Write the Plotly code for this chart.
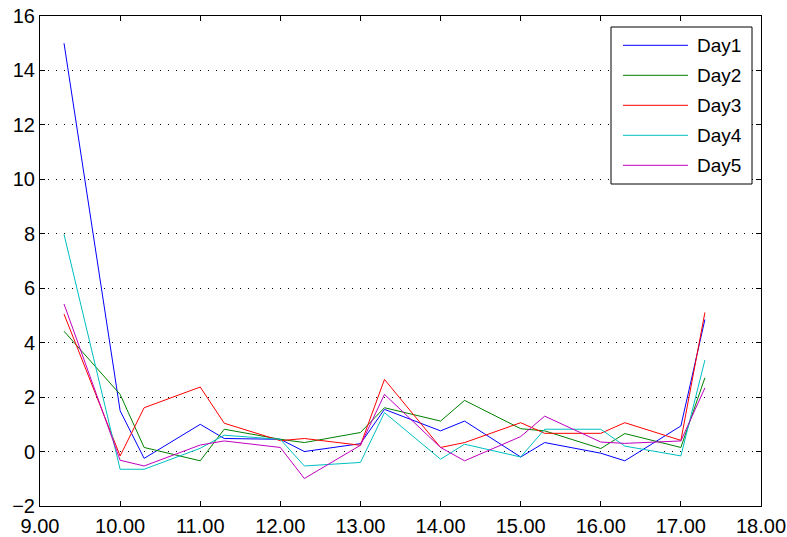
import plotly.graph_objects as go

times = [9.3, 10.0, 10.3, 11.0, 11.3, 12.0, 12.3, 13.0, 13.3, 14.0, 14.3, 15.0, 15.3, 16.0, 16.3, 17.0, 17.3]
day1 = [15.0, 1.5, -0.25, 1.0, 0.48, 0.45, 0.0, 0.29, 1.55, 0.76, 1.12, -0.2, 0.33, -0.06, -0.34, 0.94, 4.85]
day2 = [4.42, 2.1, 0.15, -0.34, 0.82, 0.45, 0.33, 0.7, 1.61, 1.12, 1.88, 0.84, 0.76, 0.11, 0.66, 0.15, 2.71]
day3 = [5.05, -0.16, 1.61, 2.37, 1.04, 0.4, 0.48, 0.23, 2.65, 0.15, 0.33, 1.06, 0.67, 0.67, 1.06, 0.41, 5.11]
day4 = [7.98, -0.65, -0.65, 0.12, 0.6, 0.45, -0.53, -0.4, 1.43, -0.28, 0.27, -0.2, 0.82, 0.82, 0.2, -0.16, 3.36]
day5 = [5.42, -0.32, -0.53, 0.24, 0.39, 0.15, -0.99, 0.23, 2.1, 0.15, -0.34, 0.55, 1.3, 0.35, 0.3, 0.39, 2.34]
names = ["Day1", "Day2", "Day3", "Day4", "Day5"]
colors = ["#0000ff", "#008000", "#ff0000", "#00bfbf", "#bf00bf"]
x_ticks = [9, 10, 11, 12, 13, 14, 15, 16, 17, 18]
x_labels = ["9.00", "10.00", "11.00", "12.00", "13.00", "14.00", "15.00", "16.00", "17.00", "18.00"]
y_ticks = list(range(-2, 17, 2))

W, H = 787, 537
ML, MR, MT, MB = 40, 26, 16, 31
PW, PH = W - ML - MR, H - MT - MB


def px_x(px):
    return (px - ML) / PW


def px_y(py):
    return (H - MB - py) / PH


FONT = "Liberation Sans, Arial, sans-serif"

fig = go.Figure()
for name, vals, col in zip(names, [day1, day2, day3, day4, day5], colors):
    fig.add_trace(go.Scatter(x=times, y=vals, mode="lines", name=name,
                             line=dict(color=col, width=1), showlegend=False))

axis_common = dict(showline=True, linecolor="black", linewidth=1, mirror="allticks",
                   ticks="inside", ticklen=5, tickcolor="black", zeroline=False,
                   automargin=False,
                   tickfont=dict(family=FONT, size=20, color="black"))
fig.update_xaxes(range=[9, 18], tickvals=x_ticks, ticktext=x_labels, showgrid=False,
                 ticklabelstandoff=2, **axis_common)
fig.update_yaxes(range=[-2, 16], tickvals=y_ticks, showgrid=True, gridcolor="black",
                 griddash="1px,7px", gridwidth=1, **axis_common)

# legend box drawn by hand to match the long line samples
shapes = [dict(type="rect", xref="paper", yref="paper",
               x0=px_x(611), x1=px_x(752), y0=px_y(184), y1=px_y(27),
               line=dict(color="black", width=1), fillcolor="white", layer="above")]
annotations = []
row0, step = 45.3, 30.0
for i, (name, col) in enumerate(zip(names, colors)):
    ry = row0 + i * step
    shapes.append(dict(type="line", xref="paper", yref="paper",
                       x0=px_x(623), x1=px_x(688), y0=px_y(ry), y1=px_y(ry),
                       line=dict(color=col, width=1), layer="above"))
    annotations.append(dict(text=name, xref="paper", yref="paper", x=px_x(695), y=px_y(ry),
                            xanchor="left", yanchor="middle", showarrow=False,
                            font=dict(family=FONT, size=19, color="black")))

fig.update_layout(
    width=W, height=H,
    margin=dict(l=ML, r=MR, t=MT, b=MB),
    plot_bgcolor="white", paper_bgcolor="white",
    shapes=shapes, annotations=annotations,
    showlegend=False,
)
fig.write_html("out.html", config={"displayModeBar": False},
               post_script="document.body.style.margin='0';document.body.style.padding='0';")
